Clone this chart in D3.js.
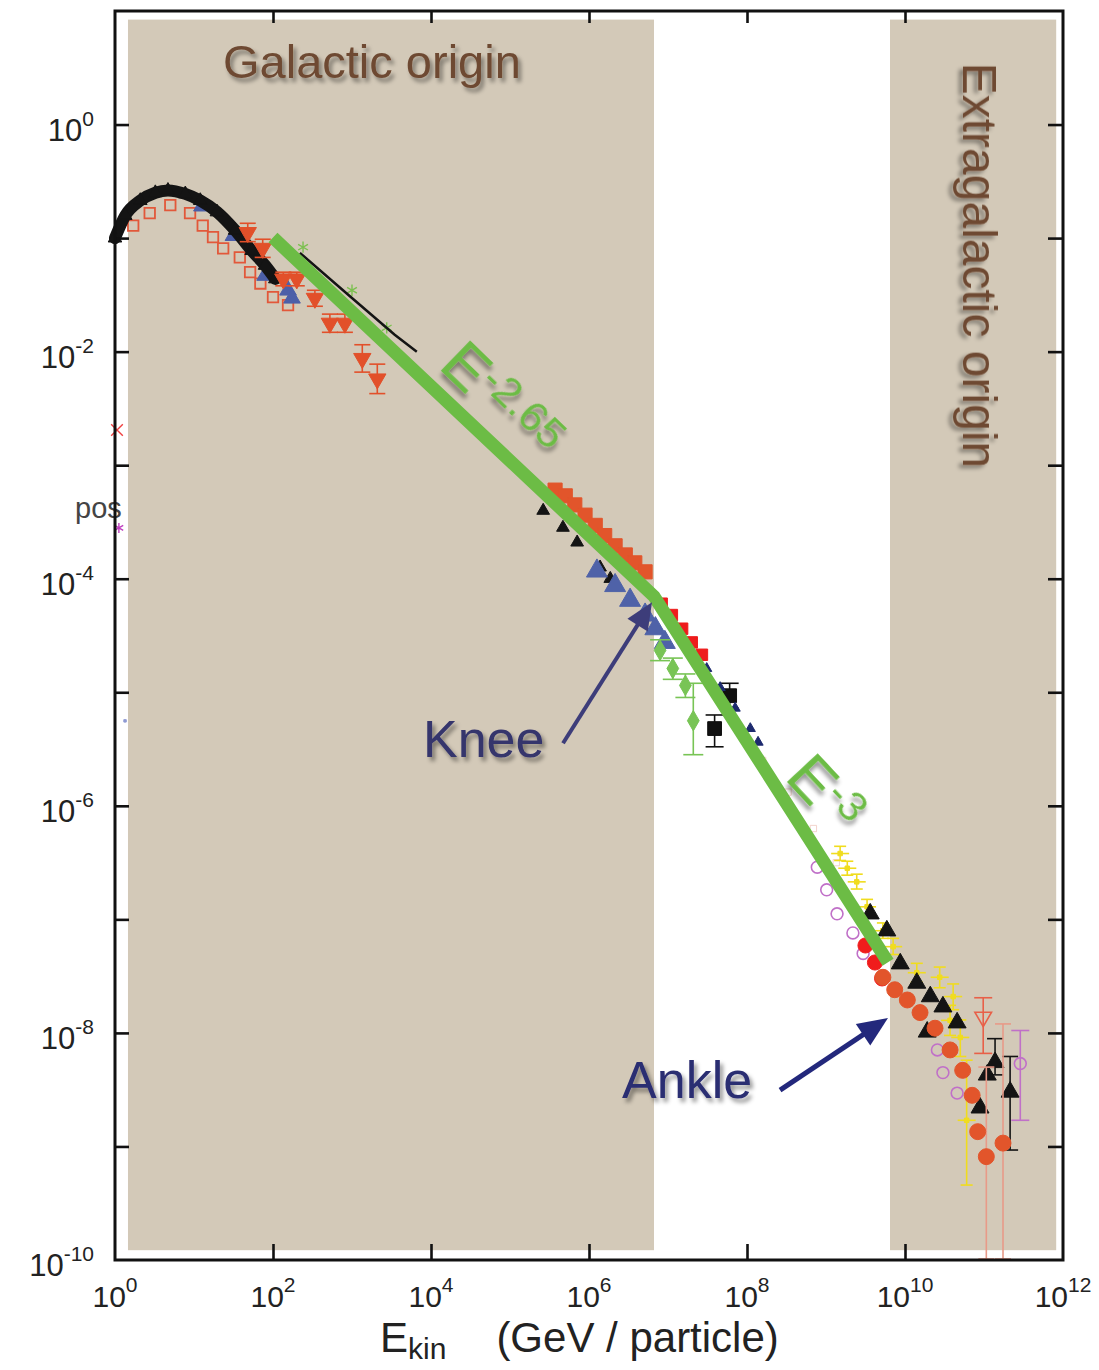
<!DOCTYPE html>
<html>
<head>
<meta charset="utf-8">
<script src="https://cdn.jsdelivr.net/npm/d3@7"></script>
<style>
  body { margin: 0; background: #fff; }
  svg { display: block; }
  text { font-family: "Liberation Sans", Arial, Helvetica, sans-serif; }
</style>
</head>
<body>
<svg id="chart" width="1099" height="1370"></svg>
<script>
// ---- data (E in GeV/particle, flux in plotted units) ----
var xTickExps = [0, 2, 4, 6, 8, 10, 12];
var yTickExps = [0, -2, -4, -6, -8, -10];

// shaded origin bands: energy range + flux range
var galacticBand = [1.46, 6.65e6];
var extragalacticBand = [6.46e9, 8.2e11];
var bandFlux = [1.22e-10, 8.4];

// thick black low-energy curve
var lowEnergyBand = [[1.0,0.100],[1.35,0.158],[2.09,0.214],[3.24,0.251],[4.68,0.263],[7.76,0.245],
  [12.0,0.214],[19.5,0.170],[33.1,0.117],[53.7,0.0776],[79.4,0.0575],[107,0.0437]];
var thinBlack = [[219,0.0741],[933,0.0309],[3470,0.0141],[6610,0.0100]];
var redOpenSquares = [[1.70,0.129],[2.75,0.166],[5.01,0.195],[8.91,0.166],[12.9,0.129],[17.4,0.102],
  [23.4,0.0813],[38.0,0.0676],[51.3,0.0501],[69.2,0.0398],[100,0.0302],[155,0.0257]];
// [E, F, Flo, Fhi]
var redDownTriangles = [[47.9,0.112,0.093,0.135],[74.1,0.0813,0.0676,0.0977],[135,0.0437,0.0380,0.0501],
  [200,0.0437,0.0380,0.0501],[339,0.0295,0.0251,0.0347],[525,0.0178,0.0148,0.0214],[813,0.0178,0.0148,0.0214],
  [1350,0.00871,0.00660,0.0115],[2090,0.00575,0.00427,0.00776]];
var blueLow = [[12.6,0.191],[31.6,0.105],[79.4,0.0468],[155,0.0347],[174,0.0295]];
var greenStars = [[240,0.0832],[1000,0.0347],[2750,0.0162]];

var orangeKnee = [[3.72e5,6.03e-4],[5.01e5,5.37e-4],[6.61e5,4.47e-4],[8.91e5,3.63e-4],[1.20e6,2.95e-4],
  [1.58e6,2.40e-4],[2.14e6,1.95e-4],[2.88e6,1.62e-4],[3.80e6,1.38e-4],[5.13e6,1.15e-4]];
var blackKnee = [[2.63e5,3.98e-4],[4.68e5,2.82e-4],[7.08e5,2.09e-4],[1.38e6,1.26e-4],[1.86e6,1.00e-4]];
var blueKnee = [[1.26e6,1.17e-4],[2.14e6,8.71e-5],[3.31e6,6.46e-5],[5.13e6,4.79e-5],[6.92e6,3.63e-5],[9.12e6,2.75e-5]];
var redKnee = [[8.32e6,6.03e-5],[1.12e7,4.79e-5],[1.51e7,3.63e-5],[2.00e7,2.75e-5],[2.69e7,2.14e-5]];
var greenDiamonds = [[7.94e6,2.34e-5,1.9e-5,2.9e-5],[1.15e7,1.62e-5,1.3e-5,2.0e-5],[1.66e7,1.15e-5,9.0e-6,1.45e-5],
  [2.09e7,5.62e-6,2.82e-6,1.2e-5]];
var blackSquares = [[6.03e7,9.33e-6,7.24e-6,1.20e-5],[3.89e7,4.79e-6,3.31e-6,6.31e-6]];
var darkBlueAfterKnee = [[3.09e7,1.62e-5],[4.57e7,1.10e-5],[7.08e7,7.24e-6],[1.10e8,4.79e-6],[1.38e8,3.63e-6]];
var faintMid = [[1.58e8,2.51e-6],[3.31e8,1.32e-6],[6.92e8,6.31e-7],[1.35e9,3.16e-7]];

var yellowUHE = [[1.51e9,3.80e-7,3.3e-7,4.4e-7],[1.86e9,2.82e-7,2.45e-7,3.25e-7],[2.45e9,2.14e-7,1.85e-7,2.5e-7],
  [3.31e9,1.29e-7,1.1e-7,1.5e-7],[5.25e9,7.94e-8,6.8e-8,9.3e-8],[7.08e9,5.75e-8,4.9e-8,6.8e-8],
  [1.41e10,3.39e-8,2.8e-8,4.1e-8],[2.75e10,3.09e-8,2.5e-8,3.8e-8],[4.07e10,2.09e-8,1.6e-8,2.7e-8],
  [3.72e10,1.29e-8,9.5e-9,1.75e-8],[5.01e10,9.12e-9,6.2e-9,1.3e-8],[6.03e10,1.70e-9,4.57e-10,5.75e-9]];
var magentaUHE = [[7.76e8,2.88e-7],[1.02e9,1.82e-7],[1.38e9,1.12e-7],[2.19e9,7.59e-8],[2.95e9,5.01e-8],
  [2.57e10,7.08e-9],[3.02e10,4.47e-9],[4.57e10,2.95e-9],[2.88e11,5.37e-9,1.70e-9,1.05e-8]];
var blackTriangles = [[3.63e9,1.12e-7],[5.89e9,7.94e-8],[8.71e9,4.07e-8],[1.41e10,2.75e-8],[2.09e10,2.09e-8],
  [3.02e10,1.70e-8],[4.57e10,1.23e-8],[1.91e10,1.02e-8],[1.38e11,5.50e-9,4.27e-9,8.9e-9],[1.10e11,4.27e-9],
  [2.14e11,3.02e-9,9.3e-10,6.2e-9],[8.91e10,2.19e-9]];
var orangeCircles = [[5.25e9,3.09e-8],[7.41e9,2.40e-8],[1.07e10,1.95e-8],[1.55e10,1.51e-8],[2.40e10,1.10e-8],
  [3.72e10,7.08e-9],[5.37e10,4.68e-9],[7.08e10,2.82e-9],[8.32e10,1.35e-9],[1.07e11,8.13e-10,1e-10,5e-9],
  [1.74e11,1.07e-9,1e-10,1.2e-8]];
var redAnkle = [[3.16e9,5.89e-8],[4.17e9,4.17e-8],[5.13e9,3.02e-8]];
var redOpenDown = [[9.77e10,1.38e-8,6.6e-9,2.04e-8]];

// left-edge leftovers of a cut legend
var legendRed = [[1.06,2.04e-3]];
var legendMagenta = [[1.12,2.8e-4]];
var legendBlue = [[1.34,5.6e-6]];

// power-law guide: E^-2.65 up to the knee, E^-3 up to the ankle
var spectralFit = [[100,0.101],[6.65e6,7.0e-5],[6.1e9,4.2e-8]];

// annotation anchors, in data space
var kneeArrow = [[4.69e5,3.56e-6],[6.27e6,6.2e-5]];
var ankleArrow = [[2.62e8,3.13e-9],[6.09e9,1.35e-8]];
var labelAt = {
  galactic: [23.3, 2.59], extragalactic: [5.42e10, 3.51],
  knee: [7920, 2.68e-6], ankle: [2.62e6, 2.67e-9],
  slope1: [1.20e4, 7.3e-3], slope2: [2.9e8, 1.75e-6],
  pos: [0.312, 3.4e-4]
};

// ---- chart ----
var plot = {left: 115, right: 1063, top: 11, bottom: 1260};
var x = d3.scaleLog().domain([1, 1e12]).range([plot.left, plot.right]);
var y = d3.scaleLog().domain([1e-10, 10]).range([plot.bottom, plot.top]);
var svg = d3.select("#chart");

var defs = svg.append("defs");
var f = defs.append("filter").attr("id", "shadow").attr("x", "-20%").attr("y", "-30%").attr("width", "140%").attr("height", "170%");
f.append("feGaussianBlur").attr("in", "SourceAlpha").attr("stdDeviation", 2.2);
f.append("feOffset").attr("dx", 3).attr("dy", 4).attr("result", "ob");
f.append("feFlood").attr("flood-color", "#000").attr("flood-opacity", 0.42);
f.append("feComposite").attr("in2", "ob").attr("operator", "in");
var fm = f.append("feMerge");
fm.append("feMergeNode");
fm.append("feMergeNode").attr("in", "SourceGraphic");

// cut legend text, sits under the shading
svg.append("text")
  .attr("x", x(labelAt.pos[0])).attr("y", y(labelAt.pos[1]))
  .attr("font-size", 29).attr("fill", "#444").text("pos");

// shaded bands
[galacticBand, extragalacticBand].forEach(function (b) {
  svg.append("rect")
    .attr("x", x(b[0])).attr("y", y(bandFlux[1]))
    .attr("width", x(b[1]) - x(b[0]))
    .attr("height", y(bandFlux[0]) - y(bandFlux[1]))
    .attr("fill", "#d3c9b8");
});

var symTimes = d3.symbolTimes || d3.symbolCross;
var symAst = d3.symbolAsterisk || d3.symbolCross;

function drawSeries(data, o) {
  var g = svg.append("g");
  var withErr = data.filter(function (d) { return d.length > 2; });
  g.selectAll("line.err").data(withErr).enter().append("line")
    .attr("x1", function (d) { return x(d[0]); }).attr("x2", function (d) { return x(d[0]); })
    .attr("y1", function (d) { return Math.min(plot.bottom, y(d[2])); }).attr("y2", function (d) { return y(d[3]); })
    .attr("stroke", o.errColor || o.color).attr("stroke-width", 1.6);
  withErr.forEach(function (d) {
    [d[2], d[3]].forEach(function (v) {
      g.append("line")
        .attr("x1", x(d[0]) - (o.cap || 6)).attr("x2", x(d[0]) + (o.cap || 6))
        .attr("y1", Math.min(plot.bottom - 1, y(v))).attr("y2", Math.min(plot.bottom - 1, y(v)))
        .attr("stroke", o.errColor || o.color).attr("stroke-width", 1.6);
    });
  });
  if (o.hbar) {
    g.selectAll("line.hb").data(data).enter().append("line")
      .attr("x1", function (d) { return x(d[0]) - o.hbar; }).attr("x2", function (d) { return x(d[0]) + o.hbar; })
      .attr("y1", function (d) { return y(d[1]); }).attr("y2", function (d) { return y(d[1]); })
      .attr("stroke", o.color).attr("stroke-width", 1.6);
  }
  g.selectAll("path").data(data).enter().append("path")
    .attr("transform", function (d) {
      return "translate(" + x(d[0]) + "," + y(d[1]) + ")" + (o.rotate ? " rotate(" + o.rotate + ")" : "");
    })
    .attr("d", d3.symbol().type(o.type).size(o.size))
    .attr("fill", o.open ? "none" : o.color)
    .attr("stroke", o.color)
    .attr("stroke-width", o.sw || 1)
    .attr("opacity", o.opacity || 1);
}

// legend leftovers
drawSeries(legendRed, {type: symTimes, size: 90, color: "#f04040", open: true, sw: 1.4});
drawSeries(legendMagenta, {type: symAst, size: 70, color: "#c040c0", open: true, sw: 1.4});
drawSeries(legendBlue, {type: d3.symbolSquare, size: 6, color: "#6070c0", opacity: 0.7});

// low energy
drawSeries(redOpenSquares, {type: d3.symbolSquare, size: 110, color: "#e2583a", open: true, sw: 1.8});
drawSeries(blueLow, {type: d3.symbolTriangle, size: 120, color: "#4c5fa8"});
svg.append("path").datum(lowEnergyBand)
  .attr("d", d3.line().x(function (d) { return x(d[0]); }).y(function (d) { return y(d[1]); }).curve(d3.curveMonotoneX))
  .attr("fill", "none").attr("stroke", "#141414").attr("stroke-width", 12).attr("stroke-linecap", "round");
drawSeries(lowEnergyBand, {type: d3.symbolTriangle, size: 80, color: "#141414"});
drawSeries(redDownTriangles, {type: d3.symbolTriangle, size: 130, color: "#e2502a", rotate: 180, cap: 8});
drawSeries(greenStars, {type: symAst, size: 90, color: "#7cc050", open: true, sw: 1.4});
svg.append("path").datum(thinBlack)
  .attr("d", d3.line().x(function (d) { return x(d[0]); }).y(function (d) { return y(d[1]); }))
  .attr("fill", "none").attr("stroke", "#141414").attr("stroke-width", 2.5);

// knee region
drawSeries(blackKnee, {type: d3.symbolTriangle, size: 70, color: "#141414"});
drawSeries(blueKnee, {type: d3.symbolTriangle, size: 190, color: "#4f62a8"});
drawSeries(orangeKnee, {type: d3.symbolSquare, size: 200, color: "#e2552b"});
drawSeries(redKnee, {type: d3.symbolSquare, size: 130, color: "#ee1c1c"});
drawSeries(greenDiamonds, {type: d3.symbolDiamond, size: 120, color: "#78c455", cap: 10});
drawSeries(blackSquares, {type: d3.symbolSquare, size: 190, color: "#101010", cap: 9});
drawSeries(darkBlueAfterKnee, {type: d3.symbolTriangle, size: 45, color: "#1d2a6e"});
drawSeries(faintMid, {type: d3.symbolSquare, size: 40, color: "#f0c8c0", open: true, opacity: 0.8});

// ankle region
drawSeries(magentaUHE, {type: d3.symbolCircle, size: 110, color: "#c070c8", open: true, sw: 1.6, cap: 9});
drawSeries(yellowUHE, {type: d3.symbolSquare, size: 20, color: "#f0dc1e", hbar: 9, cap: 6});
drawSeries(redAnkle, {type: d3.symbolCircle, size: 180, color: "#f01c1c"});
drawSeries(blackTriangles, {type: d3.symbolTriangle, size: 140, color: "#141414", cap: 8});
drawSeries(redOpenDown, {type: d3.symbolTriangle, size: 120, color: "#e86048", open: true, rotate: 180, sw: 1.6, cap: 9});
drawSeries(orangeCircles, {type: d3.symbolCircle, size: 200, color: "#e2552b", errColor: "#e89a88", cap: 8});

// power-law guide
svg.append("path").datum(spectralFit)
  .attr("d", d3.line().x(function (d) { return x(d[0]); }).y(function (d) { return y(d[1]); }))
  .attr("fill", "none").attr("stroke", "#6cbc45").attr("stroke-width", 13).attr("stroke-linejoin", "miter");

// labels
function at(p) { return [x(p[0]), y(p[1])]; }
var p = at(labelAt.galactic);
svg.append("text").attr("x", p[0]).attr("y", p[1]).attr("font-size", 47)
  .attr("fill", "#6e4a33").attr("filter", "url(#shadow)").text("Galactic origin");
p = at(labelAt.extragalactic);
svg.append("text").attr("transform", "translate(" + p[0] + "," + p[1] + ") rotate(90)").attr("font-size", 48)
  .attr("fill", "#6e4a33").attr("filter", "url(#shadow)").text("Extragalactic origin");

function slopeLabel(pos, angle, exp) {
  var q = at(pos);
  var t = svg.append("text").attr("transform", "translate(" + q[0] + "," + q[1] + ") rotate(" + angle + ")")
    .attr("fill", "#6cbc45").attr("filter", "url(#shadow)");
  t.append("tspan").attr("font-size", 62).text("E");
  t.append("tspan").attr("font-size", 43).attr("dy", -17).text(exp);
}
slopeLabel(labelAt.slope1, 44, "-2.65");
slopeLabel(labelAt.slope2, 47, "-3");

p = at(labelAt.knee);
svg.append("text").attr("x", p[0]).attr("y", p[1]).attr("font-size", 52)
  .attr("fill", "#34346c").attr("filter", "url(#shadow)").text("Knee");
p = at(labelAt.ankle);
svg.append("text").attr("x", p[0]).attr("y", p[1]).attr("font-size", 52)
  .attr("fill", "#2b2d72").attr("filter", "url(#shadow)").text("Ankle");

function arrow(pts, color, len, half, sw) {
  var a = at(pts[0]), b = at(pts[1]);
  var dx = b[0] - a[0], dy = b[1] - a[1], L = Math.hypot(dx, dy), ux = dx / L, uy = dy / L;
  var bx = b[0] - ux * len, by = b[1] - uy * len;
  svg.append("line").attr("x1", a[0]).attr("y1", a[1]).attr("x2", bx + ux * 2).attr("y2", by + uy * 2)
    .attr("stroke", color).attr("stroke-width", sw);
  svg.append("polygon")
    .attr("points", [[b[0], b[1]], [bx - uy * half, by + ux * half], [bx + uy * half, by - ux * half]].join(" "))
    .attr("fill", color);
}
arrow(kneeArrow, "#3d3d7a", 27, 12, 4);
arrow(ankleArrow, "#23287c", 30, 13, 5);

// axes
function styleAxis(g) {
  g.select(".domain").remove();
  g.selectAll(".tick line").attr("stroke", "#111").attr("stroke-width", 2.6);
}
var xTickVals = xTickExps.slice(1, -1).map(function (k) { return Math.pow(10, k); });
var yTickVals = d3.range(-9, 1).map(function (k) { return Math.pow(10, k); });

svg.append("g").attr("transform", "translate(0," + plot.bottom + ")")
  .call(d3.axisBottom(x).tickValues(xTickVals).tickSize(-16).tickFormat("")).call(styleAxis);
svg.append("g").attr("transform", "translate(0," + plot.top + ")")
  .call(d3.axisTop(x).tickValues(xTickVals).tickSize(-12).tickFormat("")).call(styleAxis);
svg.append("g").attr("transform", "translate(" + plot.left + ",0)")
  .call(d3.axisLeft(y).tickValues(yTickVals).tickSize(-14).tickFormat("")).call(styleAxis);
svg.append("g").attr("transform", "translate(" + plot.right + ",0)")
  .call(d3.axisRight(y).tickValues(yTickVals).tickSize(-15).tickFormat("")).call(styleAxis);

svg.append("rect").attr("x", plot.left).attr("y", plot.top)
  .attr("width", plot.right - plot.left).attr("height", plot.bottom - plot.top)
  .attr("fill", "none").attr("stroke", "#111").attr("stroke-width", 3);

svg.append("g").selectAll("text").data(xTickExps).enter().append("text")
  .attr("x", function (k) { return x(Math.pow(10, k)); })
  .attr("y", plot.bottom + 47)
  .attr("text-anchor", "middle").attr("font-size", 30).attr("fill", "#222")
  .each(function (k) {
    var t = d3.select(this);
    t.append("tspan").text("10");
    t.append("tspan").attr("dy", -15).attr("font-size", 21).text(k);
  });

svg.append("g").selectAll("text").data(yTickExps).enter().append("text")
  .attr("x", 94)
  .attr("y", function (k) { return y(Math.pow(10, k)) + 16; })
  .attr("text-anchor", "end").attr("font-size", 31).attr("fill", "#222")
  .each(function (k) {
    var t = d3.select(this);
    t.append("tspan").text("10");
    t.append("tspan").attr("dy", -15).attr("font-size", 21).text(k);
  });

var title = svg.append("text").attr("x", 380).attr("y", 1352).attr("font-size", 42).attr("fill", "#222");
title.append("tspan").text("E");
title.append("tspan").attr("font-size", 30).attr("dy", 7).text("kin");
title.append("tspan").attr("dx", 50).attr("dy", -7).text("(GeV / particle)");
</script>
</body>
</html>
